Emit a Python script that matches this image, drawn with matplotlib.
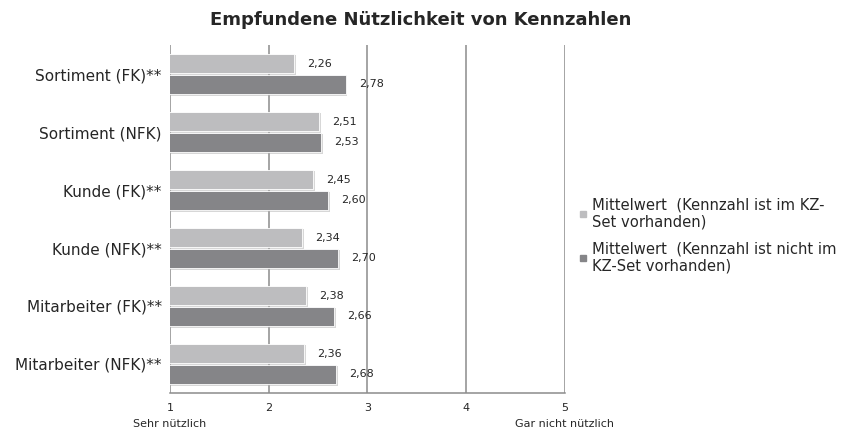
import matplotlib.pyplot as plt
import matplotlib.patheffects as pe
from matplotlib.lines import Line2D
import numpy as np

# Kategorien von oben nach unten
kategorien = ["Sortiment (FK)**", "Sortiment (NFK)", "Kunde (FK)**",
              "Kunde (NFK)**", "Mitarbeiter (FK)**", "Mitarbeiter (NFK)**"]
mw_vorhanden = [2.26, 2.51, 2.45, 2.34, 2.38, 2.36]
mw_nicht_vorhanden = [2.78, 2.53, 2.60, 2.70, 2.66, 2.68]
skala = [1, 2, 3, 4, 5]
skala_texte = ["1\nSehr nützlich", "2", "3", "4", "5\nGar nicht nützlich"]
legende = ["Mittelwert  (Kennzahl ist im KZ-\nSet vorhanden)",
           "Mittelwert  (Kennzahl ist nicht im\nKZ-Set vorhanden)"]

hell = "#bdbdbf"
dunkel = "#858588"
gitter = "#8c8c8c"
schrift = "#262626"

plt.rcParams['font.family'] = ['DejaVu Sans']

fig = plt.figure(figsize=(8.41, 4.32), dpi=100)
ax = fig.add_axes([0.2021, 0.0903, 0.4697, 0.8055])

n = len(kategorien)
y = np.arange(n)[::-1].astype(float)
h = 0.34
schatten = [pe.SimplePatchShadow(offset=(1.2, -1.2), shadow_rgbFace="#b0b0b0", alpha=0.5), pe.Normal()]

b1 = ax.barh(y + h / 2 + 0.01, mw_vorhanden, height=h, color=hell,
             edgecolor="white", linewidth=0.6, zorder=3)
b2 = ax.barh(y - h / 2 - 0.01, mw_nicht_vorhanden, height=h, color=dunkel,
             edgecolor="white", linewidth=0.6, zorder=3)
for b in list(b1) + list(b2):
    b.set_path_effects(schatten)

for yy, v in zip(y + h / 2 + 0.01, mw_vorhanden):
    ax.annotate(f"{v:.2f}".replace(".", ","), (v, yy), xytext=(9.5, 0),
                textcoords="offset points", va="center", ha="left", fontsize=8, color=schrift)
for yy, v in zip(y - h / 2 - 0.01, mw_nicht_vorhanden):
    ax.annotate(f"{v:.2f}".replace(".", ","), (v, yy), xytext=(9.5, 0),
                textcoords="offset points", va="center", ha="left", fontsize=8, color=schrift)

ax.set_xlim(1, 5)
ax.set_ylim(-0.5, n - 0.5)
ax.set_xticks(skala)
ax.set_xticklabels(skala_texte, fontsize=8, linespacing=1.75, va="top", color=schrift)
ax.set_yticks(y)
ax.set_yticklabels(kategorien, fontsize=11, color=schrift)
ax.tick_params(axis="both", length=0)
ax.tick_params(axis="x", pad=7)
ax.tick_params(axis="y", pad=6)

for s in ["top", "right", "left"]:
    ax.spines[s].set_visible(False)
ax.spines["bottom"].set_color(gitter)
ax.spines["bottom"].set_linewidth(1.1)
for x in skala:
    ax.axvline(x, color=gitter, linewidth=1.1, zorder=1)

fig.suptitle("Empfundene Nützlichkeit von Kennzahlen", fontsize=13,
             fontweight="bold", x=0.5, y=0.975, color=schrift)

griffe = [Line2D([], [], marker="s", linestyle="none", markersize=4.5, color=hell),
          Line2D([], [], marker="s", linestyle="none", markersize=4.5, color=dunkel)]
fig.legend(griffe, legende, loc="center left", bbox_to_anchor=(0.672, 0.455),
           frameon=False, fontsize=10.6, handlelength=0.6, handletextpad=0.3,
           labelspacing=0.8, labelcolor=schrift)

fig.savefig("out.png", dpi=100)
